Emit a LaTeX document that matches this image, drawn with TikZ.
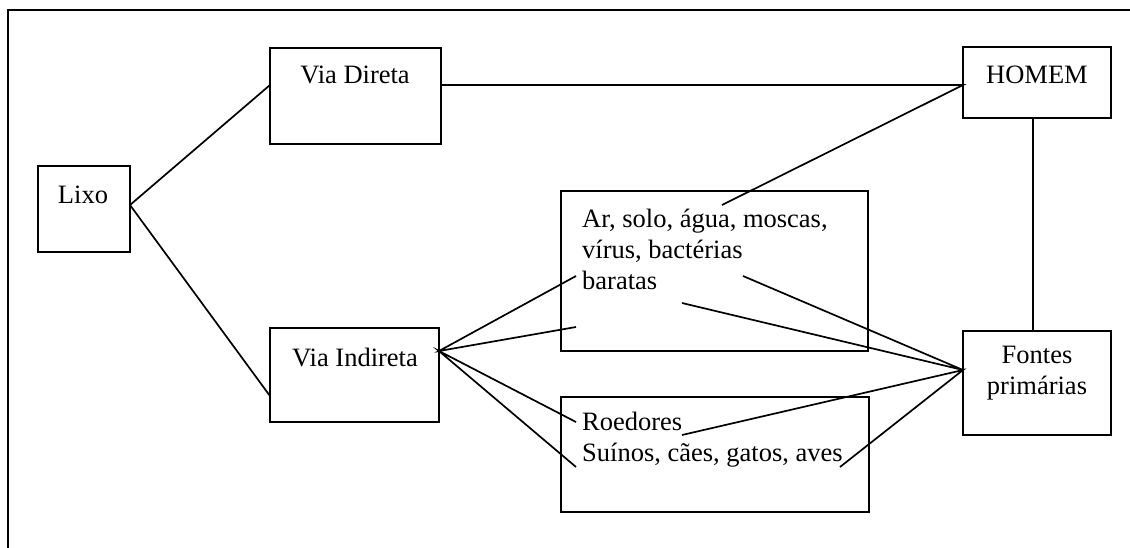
\documentclass[tikz,border=0pt]{standalone}
\usepackage{fontspec}
\setmainfont{Liberation Serif}
\begin{document}
\begin{tikzpicture}[x=1pt,y=-1pt,
  box/.style={draw,line width=1.8pt,inner sep=0pt},
  txt/.style={inner sep=0pt,font=\fontsize{26.5}{31}\selectfont},
  link/.style={line width=1.7pt}]
\useasboundingbox (0,0) rectangle (1130,547);

% frame
\coordinate (fTL) at (8,10);
\coordinate (fTR) at (1131,10);
\coordinate (fBL) at (8,548);
\draw[line width=1.8pt] (fTR) -- (fTL) -- (fBL);

% boxes
\node[box,minimum width=92,minimum height=86] (lixo) at (84,209) {};
\node[box,minimum width=171,minimum height=96] (direta) at (355.5,96) {};
\node[box,minimum width=169,minimum height=94] (indireta) at (354.5,375) {};
\node[box,minimum width=148,minimum height=71] (homem) at (1037,82.5) {};
\node[box,minimum width=148,minimum height=104] (fontes) at (1037,383) {};
\node[box,minimum width=307,minimum height=160] (meio) at (714.5,271) {};
\node[box,minimum width=308,minimum height=115] (animais) at (715,454.5) {};

% texts
\node[txt] (lixoT) at (83,195) {Lixo};
\node[txt] (diretaT) at (355,75) {Via Direta};
\node[txt] (indiretaT) at (355,357) {Via Indireta};
\node[txt] (homemT) at (1037,75) {HOMEM};
\node[txt,align=center] (fontesT) at (1037,373) {Fontes\\primárias};
\node[txt,align=left,anchor=west] (meioT) at (582,249) {Ar, solo, água, moscas,\\vírus, bactérias\\baratas};
\node[txt,align=left,anchor=west] (animaisT) at (582,440) {Roedores\\Suínos, cães, gatos, aves};

% connection points
\coordinate (lixoR) at (130,205);
\coordinate (diretaL) at (270,85);
\coordinate (diretaR) at (441,85);
\coordinate (indiretaL) at (270,396);
\coordinate (indiretaR) at (439,351);
\coordinate (homemL) at (963,85);
\coordinate (homemB) at (1033,118);
\coordinate (fontesT) at (1033,331);
\coordinate (fontesL) at (963,370);
\coordinate (m1) at (722,205);
\coordinate (m2) at (576,276);
\coordinate (m3) at (576,327);
\coordinate (m4) at (743,276);
\coordinate (m5) at (682,303);
\coordinate (a1) at (576,422);
\coordinate (a2) at (576,467);
\coordinate (a3) at (682,435);
\coordinate (a4) at (840,467);

% connectors
\draw[link] (diretaL) -- (lixoR) -- (indiretaL);
\draw[link] (diretaR) -- (homemL) -- (m1);
\draw[link] (homemB) -- (fontesT);
\draw[link] (m2) -- (indiretaR) -- (m3);
\draw[link] (a1) -- (indiretaR) -- (a2);
\draw[link] (m4) -- (fontesL) -- (m5);
\draw[link] (a3) -- (fontesL) -- (a4);
\end{tikzpicture}
\end{document}
